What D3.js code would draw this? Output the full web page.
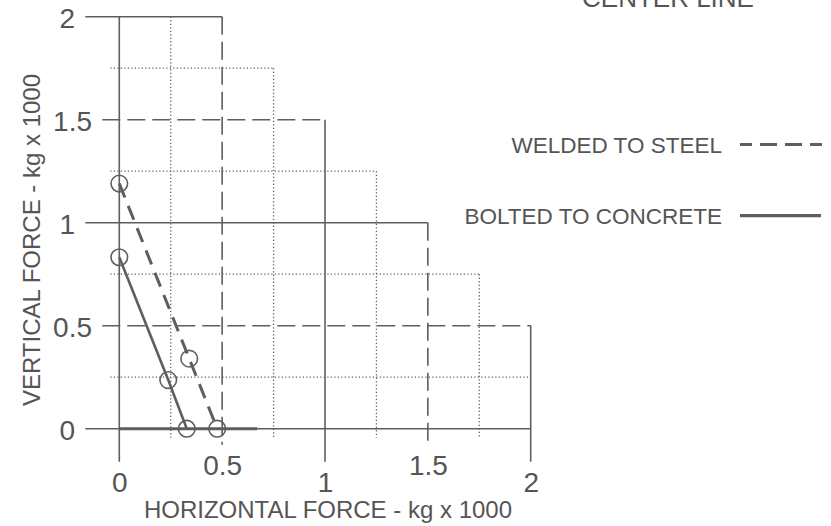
<!DOCTYPE html>
<html><head><meta charset="utf-8">
<script src="https://cdn.jsdelivr.net/npm/d3@7"></script>
<style>
body{margin:0;background:#fff}
svg{display:block}
text{font-family:"Liberation Sans",Arial,Helvetica,sans-serif;fill:#555}
</style>
</head><body>
<svg id="c" width="831" height="526"></svg>
<script>
// ---- data ----
const gridLevels = [0, 0.25, 0.5, 0.75, 1, 1.25, 1.5, 1.75, 2];
const tickValues = [0, 0.5, 1, 1.5, 2];
const tickLabels = ["0", "0.5", "1", "1.5", "2"];
const weldedX = [0, 0.34, 0.476];
const weldedY = [1.19, 0.34, 0];
const boltedX = [0, 0.238, 0.328];
const boltedY = [0.832, 0.236, 0];
const axisSegment = [0, 0.67];
const legendLabels = ["WELDED TO STEEL", "BOLTED TO CONCRETE"];
const titleText = "CENTER LINE";
const xTitle = "HORIZONTAL FORCE - kg x 1000";
const yTitle = "VERTICAL FORCE - kg x 1000";

// ---- layout ----
const svg = d3.select("#c");
const x = d3.scaleLinear().domain([0, 2]).range([119.3, 530.7]);
const y = d3.scaleLinear().domain([0, 2]).range([428.7, 16.7]);
const ink = "#5e5e5e";

function kind(v){ return (v % 1 === 0) ? "solid" : (v % 0.5 === 0 ? "dash" : "dot"); }
const leftExt = {solid: 34, dash: 17, dot: 9};
const botExt = {solid: 33, dash: 16, dot: 9};
const dashArr = {solid: null, dash: "18,7", dot: "1.2,2.3"};
const widthOf = {solid: 1.6, dash: 1.6, dot: 1.3};

const grid = svg.append("g");
// horizontal staircase grid
grid.selectAll("line.h").data(gridLevels).enter().append("line")
  .attr("x1", d => x(0) - leftExt[kind(d)])
  .attr("x2", d => x(Math.min(2, 2.5 - d)))
  .attr("y1", d => y(d)).attr("y2", d => y(d))
  .attr("stroke", ink)
  .attr("stroke-width", d => widthOf[kind(d)])
  .attr("stroke-dasharray", d => dashArr[kind(d)]);
// vertical staircase grid
grid.selectAll("line.v").data(gridLevels).enter().append("line")
  .attr("x1", d => x(d)).attr("x2", d => x(d))
  .attr("y1", d => y(Math.min(2, 2.5 - d)))
  .attr("y2", d => y(0) + botExt[kind(d)])
  .attr("stroke", ink)
  .attr("stroke-width", d => widthOf[kind(d)])
  .attr("stroke-dasharray", d => dashArr[kind(d)]);

// thick segment along x axis
svg.append("line")
  .attr("x1", x(axisSegment[0])).attr("x2", x(axisSegment[1]))
  .attr("y1", y(0)).attr("y2", y(0))
  .attr("stroke", ink).attr("stroke-width", 3);

// axes (labels only)
const fs = 28;
const ax = svg.append("g").attr("transform", `translate(0,${y(0)})`)
  .call(d3.axisBottom(x).tickValues(tickValues).tickFormat((d,i) => tickLabels[i]).tickSize(0).tickPadding(0));
ax.select(".domain").remove();
ax.selectAll("text")
  .attr("font-size", fs).attr("fill", "#555").style("font-family", '"Liberation Sans",Arial,sans-serif')
  .attr("y", d => kind(d) === "solid" ? 43.4 : 26.4);

const ay = svg.append("g").attr("transform", `translate(${x(0)},0)`)
  .call(d3.axisLeft(y).tickValues(tickValues).tickFormat((d,i) => tickLabels[i]).tickSize(0).tickPadding(0));
ay.select(".domain").remove();
ay.selectAll("text")
  .attr("font-size", fs).attr("fill", "#555").style("font-family", '"Liberation Sans",Arial,sans-serif')
  .attr("dy", "0.37em")
  .attr("x", d => kind(d) === "solid" ? -(x(0) - 75) : -(x(0) - 92));

// series
const line = d3.line().x(d => x(d[0])).y(d => y(d[1]));
const welded = weldedX.map((v,i) => [v, weldedY[i]]);
const bolted = boltedX.map((v,i) => [v, boltedY[i]]);

svg.append("path").datum(welded).attr("d", line)
  .attr("fill", "none").attr("stroke", ink).attr("stroke-width", 3)
  .attr("stroke-dasharray", "15,9");
svg.append("path").datum(bolted).attr("d", line)
  .attr("fill", "none").attr("stroke", ink).attr("stroke-width", 2.6);

svg.selectAll("circle.p").data(welded.concat(bolted)).enter().append("circle")
  .attr("cx", d => x(d[0])).attr("cy", d => y(d[1])).attr("r", 8.3)
  .attr("fill", "none").attr("stroke", ink).attr("stroke-width", 1.6);

// legend
const lg = svg.append("g");
const legY = [144.5, 215.7];
lg.selectAll("text").data(legendLabels).enter().append("text")
  .attr("x", 722).attr("y", (d,i) => legY[i] + 8.2)
  .attr("text-anchor", "end").attr("font-size", 22.5).text(d => d);
lg.append("line").attr("x1", 740).attr("x2", 822).attr("y1", legY[0]).attr("y2", legY[0])
  .attr("stroke", ink).attr("stroke-width", 3.2).attr("stroke-dasharray", "17,8").attr("stroke-dashoffset", 5);
lg.append("line").attr("x1", 740).attr("x2", 821).attr("y1", legY[1]).attr("y2", legY[1])
  .attr("stroke", ink).attr("stroke-width", 3.2);

// title (cut at top, as in the reference)
svg.append("text").attr("x", 668).attr("y", 7).attr("text-anchor", "middle")
  .attr("font-size", 26).text(titleText);

// axis titles
svg.append("text").attr("x", 328).attr("y", 518).attr("text-anchor", "middle")
  .attr("font-size", 24).text(xTitle);
svg.append("text").attr("transform", "translate(40,240) rotate(-90)").attr("text-anchor", "middle")
  .attr("font-size", 24).text(yTitle);
</script>
</body></html>
